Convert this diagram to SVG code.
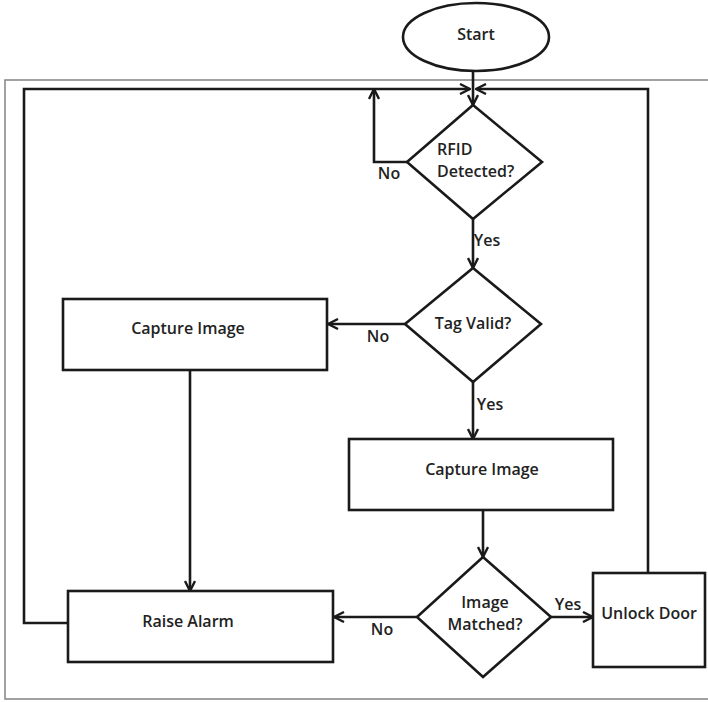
<svg xmlns="http://www.w3.org/2000/svg" width="708" height="702" viewBox="0 0 708 702">
  <style>
    .shape { fill: #ffffff; stroke: #1a1a1a; stroke-width: 2.6; }
    .wire { fill: none; stroke: #1a1a1a; stroke-width: 2.6; }
    .txt { font-family: "Open Sans", "Liberation Sans", sans-serif; font-weight: 600; font-size: 16px; fill: #222222; }
    .mid { text-anchor: middle; dominant-baseline: central; }
  </style>
  <defs>
    <marker id="arrow" viewBox="0 0 12 12" refX="11" refY="6" markerWidth="12" markerHeight="12" markerUnits="userSpaceOnUse" orient="auto">
      <path d="M1,1 L11,6 L1,11" fill="none" stroke="#1a1a1a" stroke-width="2.4"/>
    </marker>
  </defs>

  <rect width="708" height="702" fill="#ffffff"/>
  <!-- outer frame -->
  <rect x="5" y="80" width="710" height="619" fill="none" stroke="#8a8a8a" stroke-width="1.6"/>

  <g id="connectors">
    <!-- start to first decision -->
    <path class="wire" d="M473,72 L473,105" marker-end="url(#arrow)"/>
    <!-- return loop from raise alarm -->
    <path class="wire" d="M68,623 L24,623 L24,89 L470,89" marker-end="url(#arrow)"/>
    <!-- return loop from unlock door -->
    <path class="wire" d="M648,573 L648,89 L476,89" marker-end="url(#arrow)"/>
    <!-- RFID no loop -->
    <path class="wire" d="M407,162 L374,162 L374,89" marker-end="url(#arrow)"/>
    <!-- RFID yes -->
    <path class="wire" d="M473,219 L473,268" marker-end="url(#arrow)"/>
    <!-- Tag no -->
    <path class="wire" d="M405,324 L328,324" marker-end="url(#arrow)"/>
    <!-- Tag yes -->
    <path class="wire" d="M473,382 L473,439" marker-end="url(#arrow)"/>
    <!-- left capture to alarm -->
    <path class="wire" d="M190,370 L190,591" marker-end="url(#arrow)"/>
    <!-- right capture to match -->
    <path class="wire" d="M483,510 L483,557" marker-end="url(#arrow)"/>
    <!-- match yes -->
    <path class="wire" d="M551,617 L593,617" marker-end="url(#arrow)"/>
    <!-- match no -->
    <path class="wire" d="M417,617 L334,617" marker-end="url(#arrow)"/>

    <text class="txt mid" x="389" y="173">No</text>
    <text class="txt mid" x="487" y="240">Yes</text>
    <text class="txt mid" x="378" y="336">No</text>
    <text class="txt mid" x="490" y="404">Yes</text>
    <text class="txt mid" x="568" y="604">Yes</text>
    <text class="txt mid" x="382" y="629">No</text>
  </g>

  <g id="start">
    <ellipse class="shape" cx="476" cy="37" rx="73" ry="34"/>
    <text class="txt mid" x="476" y="34">Start</text>
  </g>

  <g id="rfid-detected">
    <polygon class="shape" points="473,105 542,162 473,219 407,162"/>
    <text class="txt" x="437" y="155">RFID</text>
    <text class="txt" x="437" y="177">Detected?</text>
  </g>

  <g id="tag-valid">
    <polygon class="shape" points="473,268 541,324 473,382 405,324"/>
    <text class="txt mid" x="473" y="323">Tag Valid?</text>
  </g>

  <g id="capture-image-left">
    <rect class="shape" x="63" y="299" width="264" height="71"/>
    <text class="txt mid" x="188" y="328">Capture Image</text>
  </g>

  <g id="capture-image-right">
    <rect class="shape" x="349" y="439" width="264" height="71"/>
    <text class="txt mid" x="482" y="469">Capture Image</text>
  </g>

  <g id="image-matched">
    <polygon class="shape" points="483,557 551,617 483,677 417,617"/>
    <text class="txt mid" x="485" y="602">Image</text>
    <text class="txt mid" x="485" y="624">Matched?</text>
  </g>

  <g id="raise-alarm">
    <rect class="shape" x="68" y="591" width="265" height="71"/>
    <text class="txt mid" x="188" y="621">Raise Alarm</text>
  </g>

  <g id="unlock-door">
    <rect class="shape" x="593" y="573" width="112" height="94"/>
    <text class="txt mid" x="649" y="613">Unlock Door</text>
  </g>
</svg>
